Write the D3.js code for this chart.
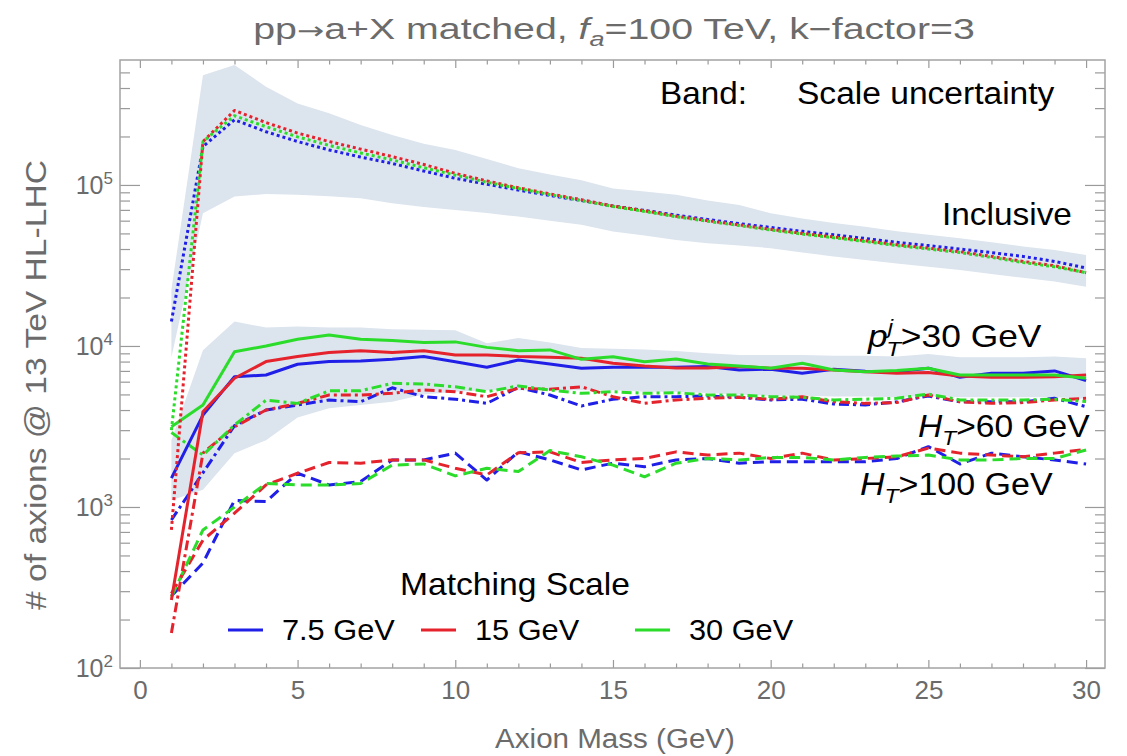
<!DOCTYPE html>
<html>
<head>
<meta charset="utf-8">
<script src="https://cdn.jsdelivr.net/npm/d3@7"></script>
<style>
  body { margin: 0; background: #fff; }
  svg { display: block; }
  text { font-family: 'Liberation Sans', Arial, sans-serif; }
</style>
</head>
<body>
<svg id="chart" width="1127" height="756"></svg>
<script>
// axion mass points (GeV)
const mass = [1, 2, 3, 4, 5, 6, 7, 8, 9, 10, 11, 12, 13, 14, 15, 16, 17, 18, 19, 20, 21, 22, 23, 24, 25, 26, 27, 28, 29, 30];

// inclusive (dotted)
const inclBlue = [14200, 173000, 254000, 214000, 186000, 165000, 149000, 136000, 122000, 110000, 101000, 93000, 86000, 80000, 74000, 69500, 65000, 61000, 57500, 54500, 51500, 49000, 46500, 44000, 42000, 40000, 38000, 36000, 33500, 30500];
const inclRed = [720, 186000, 290000, 244000, 210000, 186000, 167000, 150000, 134000, 118000, 106000, 96000, 88000, 81000, 74000, 69000, 64000, 60000, 56500, 53000, 50000, 47500, 45000, 42500, 40500, 38500, 36000, 33500, 31500, 28500];
const inclGreen = [3000, 186000, 269000, 230000, 199000, 176000, 158000, 143000, 128000, 115000, 104000, 95000, 87000, 80000, 73500, 68500, 63500, 59500, 56000, 52500, 49500, 47000, 44500, 42000, 40000, 38000, 35500, 33000, 31000, 28500];

// pT^j > 30 GeV (solid)
const ptBlue = [1510, 3720, 6450, 6600, 7700, 8000, 8070, 8270, 8600, 7980, 7380, 8180, 7730, 7280, 7380, 7380, 7380, 7450, 7100, 7170, 6760, 7170, 6970, 6920, 7280, 6390, 6760, 6760, 7000, 6100];
const ptRed = [264, 3900, 6300, 8000, 8600, 9100, 9350, 9100, 9350, 8800, 8800, 8600, 8500, 8400, 7800, 7500, 7300, 7300, 7450, 7280, 7280, 7100, 6920, 6760, 6850, 6500, 6390, 6390, 6450, 6600];
const ptGreen = [3150, 4300, 9200, 10000, 11000, 11700, 11000, 10800, 10500, 10600, 9800, 9350, 9450, 8260, 8580, 7980, 8300, 7720, 7500, 7280, 7800, 7100, 6920, 7030, 7280, 6600, 6600, 6600, 6600, 6300];

// HT > 60 GeV (dot-dashed)
const ht60Blue = [830, 1630, 3200, 4000, 4300, 4620, 4500, 5500, 4840, 4670, 4400, 5530, 4960, 4240, 4670, 4840, 4840, 4890, 4800, 4620, 4670, 4360, 4300, 4500, 4890, 4500, 4500, 4500, 4730, 4200];
const ht60Red = [165, 2160, 3150, 4000, 4400, 4960, 4960, 5080, 5330, 5200, 4840, 5460, 5380, 5580, 4840, 4400, 4620, 4730, 4800, 4670, 4840, 4500, 4400, 4450, 4960, 4500, 4400, 4450, 4620, 4730];
const ht60Green = [2900, 2100, 3230, 4600, 4400, 5270, 5270, 5860, 5800, 5580, 5200, 5650, 5330, 5080, 5200, 5080, 5120, 4960, 4960, 4840, 4800, 4620, 4670, 4730, 5030, 4620, 4620, 4620, 4670, 4520];

// HT > 100 GeV (dashed)
const ht100Blue = [280, 449, 1100, 1080, 1620, 1370, 1440, 1960, 1960, 2160, 1470, 2200, 1960, 1700, 1870, 1780, 1960, 2000, 1870, 1910, 1910, 1910, 1910, 2000, 2370, 1850, 2160, 2050, 1960, 1850];
const ht100Red = [290, 623, 915, 1370, 1620, 1890, 1870, 1960, 1960, 1740, 1580, 2170, 2200, 1890, 1960, 2000, 2200, 2100, 2160, 2000, 2160, 1960, 2000, 2050, 2320, 2160, 2100, 2050, 2160, 2280];
const ht100Green = [277, 720, 1000, 1400, 1370, 1370, 1400, 1820, 1850, 1560, 1740, 1660, 2240, 2050, 1820, 1540, 1870, 2000, 1960, 2030, 2030, 1960, 2030, 2070, 2100, 1960, 1960, 2000, 2000, 2260];

// scale uncertainty bands
const inclBandHi = [22400, 480000, 556000, 407000, 320000, 279000, 236000, 204000, 180000, 165000, 145000, 127000, 116000, 107000, 95000, 91000, 87000, 80000, 75000, 66700, 62000, 58000, 55000, 51500, 49000, 46700, 44000, 41500, 39400, 36700];
const inclBandLo = [8500, 66700, 84700, 88000, 87000, 85000, 82700, 77000, 73000, 70000, 67000, 63600, 60000, 56500, 51300, 48500, 45500, 43500, 42000, 40500, 38000, 36000, 34200, 32500, 31000, 29600, 28000, 26500, 25100, 23300];
const ptBandHi = [2600, 9400, 14200, 13000, 13200, 13000, 13000, 12700, 12600, 12500, 10400, 11200, 10500, 9700, 9600, 9500, 9300, 9000, 8800, 8800, 8800, 8700, 8700, 8600, 8900, 8500, 8500, 8500, 8600, 8400];
const ptBandLo = [1100, 1280, 2160, 2600, 3600, 4100, 4300, 4500, 5000, 5200, 5300, 5300, 5300, 5300, 5300, 5200, 5200, 5100, 5000, 4900, 4900, 4850, 4850, 4800, 4900, 4800, 4800, 4800, 4800, 4700];

// axis ticks
const xMajor = [0, 5, 10, 15, 20, 25, 30];
const yMajor = [100, 1000, 10000, 100000];
const yExp = [2, 3, 4, 5];
const legendLabels = ['7.5 GeV', '15 GeV', '30 GeV'];

const BLUE = '#1f1fe8', RED = '#e5232d', GREEN = '#2bdc2b';
const GRAY = '#6b6b6b';
const DOT = '3,3', DASH = '11,6', DASHDOT = '10,4,3,4';

const svg = d3.select('#chart');
const plot = {left: 120, right: 1105, top: 60, bottom: 668};

const x = d3.scaleLinear().domain([-0.63, 30.6]).range([plot.left, plot.right]);
const y = d3.scaleLog().domain([100, 597000]).range([plot.bottom, plot.top]);

svg.append('clipPath').attr('id', 'clip')
  .append('rect')
  .attr('x', plot.left).attr('y', plot.top)
  .attr('width', plot.right - plot.left).attr('height', plot.bottom - plot.top);

const layer = svg.append('g').attr('clip-path', 'url(#clip)');

// bands
const area = d3.area()
  .x((d, i) => x(mass[i]))
  .y0(d => y(d[0]))
  .y1(d => y(d[1]));

[[inclBandLo, inclBandHi], [ptBandLo, ptBandHi]].forEach(function (b) {
  layer.append('path')
    .datum(b[0].map((v, i) => [v, b[1][i]]))
    .attr('fill', '#dce4ee')
    .attr('d', area);
});

// lines
const line = d3.line()
  .x((d, i) => x(mass[i]))
  .y(d => y(d));

const series = [
  [ht100Blue, BLUE, DASH], [ht100Red, RED, DASH], [ht100Green, GREEN, DASH],
  [ht60Blue, BLUE, DASHDOT], [ht60Red, RED, DASHDOT], [ht60Green, GREEN, DASHDOT],
  [ptBlue, BLUE, null], [ptRed, RED, null], [ptGreen, GREEN, null],
  [inclBlue, BLUE, DOT], [inclRed, RED, DOT], [inclGreen, GREEN, DOT]
];

series.forEach(function (s) {
  layer.append('path')
    .datum(s[0])
    .attr('fill', 'none')
    .attr('stroke', s[1])
    .attr('stroke-width', 3)
    .attr('stroke-linejoin', 'round')
    .attr('stroke-dasharray', s[2])
    .attr('d', line);
});

// frame + ticks
const xMinor = x.ticks(31).filter(v => Number.isInteger(v) && v >= 0 && v <= 30 && v % 5 !== 0);
const yMinor = [];
yMajor.forEach(function (d) {
  for (let k = 2; k <= 9; k++) if (d * k < y.domain()[1]) yMinor.push(d * k);
});

function styleAxis(g) {
  g.select('.domain').remove();
  g.selectAll('line').attr('stroke', '#9a9a9a').attr('stroke-width', 1.2);
}

svg.append('g').attr('transform', 'translate(0,' + plot.bottom + ')')
  .call(d3.axisBottom(x).tickValues(xMajor).tickSizeInner(-8).tickSizeOuter(0).tickPadding(13))
  .call(styleAxis)
  .call(g => g.selectAll('text').attr('font-size', 26).attr('fill', GRAY)
    .attr('font-family', "'Liberation Sans', Arial, sans-serif"));
svg.append('g').attr('transform', 'translate(0,' + plot.bottom + ')')
  .call(d3.axisBottom(x).tickValues(xMinor).tickSize(-4.5).tickFormat(''))
  .call(styleAxis);
svg.append('g').attr('transform', 'translate(0,' + plot.top + ')')
  .call(d3.axisTop(x).tickValues(xMajor).tickSize(-8).tickFormat(''))
  .call(styleAxis);
svg.append('g').attr('transform', 'translate(0,' + plot.top + ')')
  .call(d3.axisTop(x).tickValues(xMinor).tickSize(-4.5).tickFormat(''))
  .call(styleAxis);

svg.append('g').attr('transform', 'translate(' + plot.left + ',0)')
  .call(d3.axisLeft(y).tickValues(yMajor).tickSize(-20).tickFormat(''))
  .call(styleAxis);
svg.append('g').attr('transform', 'translate(' + plot.left + ',0)')
  .call(d3.axisLeft(y).tickValues(yMinor).tickSize(-10).tickFormat(''))
  .call(styleAxis);
svg.append('g').attr('transform', 'translate(' + plot.right + ',0)')
  .call(d3.axisRight(y).tickValues(yMajor).tickSize(-20).tickFormat(''))
  .call(styleAxis);
svg.append('g').attr('transform', 'translate(' + plot.right + ',0)')
  .call(d3.axisRight(y).tickValues(yMinor).tickSize(-10).tickFormat(''))
  .call(styleAxis);

svg.append('rect')
  .attr('x', plot.left).attr('y', plot.top)
  .attr('width', plot.right - plot.left).attr('height', plot.bottom - plot.top)
  .attr('fill', 'none').attr('stroke', '#a3a3a3').attr('stroke-width', 1.5);

// y tick labels 10^n
yMajor.forEach(function (d, i) {
  const t = svg.append('text')
    .attr('x', 113).attr('y', y(d) + 9)
    .attr('text-anchor', 'end')
    .attr('font-size', 25).attr('fill', GRAY);
  t.append('tspan').text('10');
  t.append('tspan').attr('font-size', 17).attr('dy', -10).text(yExp[i]);
});

// stretch a text horizontally to a measured width
function fit(t, ax, w) {
  const bw = t.node().getBBox().width;
  const sx = w / bw;
  t.attr('transform', 'translate(' + ax + ',0) scale(' + sx + ',1) translate(' + (-ax) + ',0)');
  return t;
}

// title
const title = svg.append('text')
  .attr('x', 614).attr('y', 39).attr('text-anchor', 'middle')
  .attr('font-size', 29).attr('fill', GRAY);
title.append('tspan').text('pp');
title.append('tspan').attr('font-family', "'DejaVu Sans', sans-serif").attr('font-size', 24).text('→');
title.append('tspan').text('a+X matched, ');
title.append('tspan').attr('font-style', 'italic').text('f');
title.append('tspan').attr('font-style', 'italic').attr('font-size', 20).attr('dy', 7).text('a');
title.append('tspan').attr('dy', -7).text('=100 TeV, k−factor=3');
fit(title, 614, 722);

// axis labels
fit(svg.append('text')
  .attr('x', 615).attr('y', 748).attr('text-anchor', 'middle')
  .attr('font-size', 27).attr('fill', GRAY)
  .text('Axion Mass (GeV)'), 615, 240);

const yl = svg.append('g').attr('transform', 'translate(46,385) rotate(-90)');
fit(yl.append('text')
  .attr('x', 0).attr('y', 0).attr('text-anchor', 'middle')
  .attr('font-size', 29).attr('fill', GRAY)
  .text('# of axions @ 13 TeV HL-LHC'), 0, 450);

// in-plot labels
function label(xs, ys, w) {
  const t = svg.append('text').attr('x', xs).attr('y', ys)
    .attr('font-size', 31).attr('fill', '#000');
  return {t: t, done: () => fit(t, xs, w)};
}

let L = label(660, 104, 87); L.t.text('Band:'); L.done();
L = label(797, 104, 258); L.t.text('Scale uncertainty'); L.done();
L = label(942, 225, 130); L.t.text('Inclusive'); L.done();

L = label(868, 347, 175);
L.t.append('tspan').attr('font-style', 'italic').text('p');
L.t.append('tspan').attr('font-style', 'italic').attr('font-size', 21).attr('dy', -13).text('j');
L.t.append('tspan').attr('font-style', 'italic').attr('font-size', 21).attr('dx', -6).attr('dy', 22).text('T');
L.t.append('tspan').attr('dy', -9).text('>30 GeV');
L.done();

L = label(918, 437, 172);
L.t.append('tspan').attr('font-style', 'italic').text('H');
L.t.append('tspan').attr('font-style', 'italic').attr('font-size', 21).attr('dy', 8).text('T');
L.t.append('tspan').attr('dy', -8).text('>60 GeV');
L.done();

L = label(860, 495, 193);
L.t.append('tspan').attr('font-style', 'italic').text('H');
L.t.append('tspan').attr('font-style', 'italic').attr('font-size', 21).attr('dy', 8).text('T');
L.t.append('tspan').attr('dy', -8).text('>100 GeV');
L.done();

// legend
L = label(400, 595, 230); L.t.text('Matching Scale'); L.done();
const legX = [228, 421, 635];
[BLUE, RED, GREEN].forEach(function (c, i) {
  svg.append('line')
    .attr('x1', legX[i]).attr('x2', legX[i] + 35)
    .attr('y1', 630).attr('y2', 630)
    .attr('stroke', c).attr('stroke-width', 3);
  const t = svg.append('text')
    .attr('x', legX[i] + 54).attr('y', 640)
    .attr('font-size', 29).attr('fill', '#000')
    .text(legendLabels[i]);
  fit(t, legX[i] + 54, t.node().getBBox().width * 1.06);
});
</script>
</body>
</html>
